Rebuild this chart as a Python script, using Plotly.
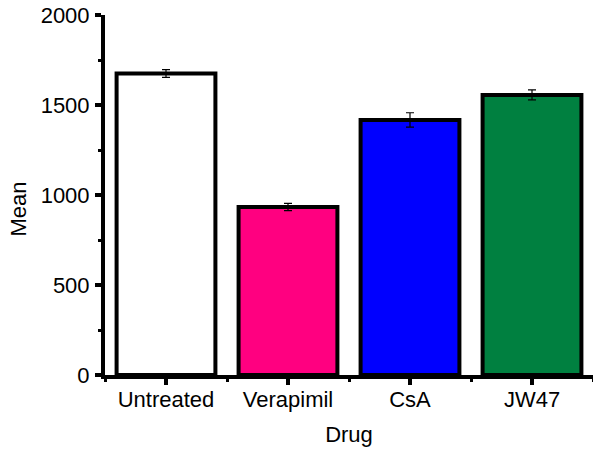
import plotly.graph_objects as go

categories = ["Untreated", "Verapimil", "CsA", "JW47"]
means = [1675, 933, 1417, 1556]
errors = [22, 20, 40, 28]
colors = ["#FFFFFF", "#FF0080", "#0000FF", "#008040"]
y_ticks = [0, 500, 1000, 1500, 2000]

positions = list(range(len(categories)))

fig = go.Figure()
fig.add_trace(go.Bar(
    x=positions, y=means,
    marker=dict(color=colors, line=dict(color="black", width=4)),
    error_y=dict(type="data", array=errors, visible=True, color="black", thickness=1.2, width=4),
    width=0.81,
))

font_family = "Liberation Sans, Arial, sans-serif"
fig.update_layout(
    width=593, height=454,
    margin=dict(l=105, r=0, t=15, b=79),
    paper_bgcolor="white", plot_bgcolor="white",
    showlegend=False,
    font=dict(family=font_family, size=22, color="black"),
    xaxis=dict(
        range=[-0.5, 3.5],
        tickmode="array", tickvals=positions, ticktext=categories,
        showline=True, linecolor="black", linewidth=4,
        ticks="outside", ticklen=6, tickwidth=4, tickcolor="black",
        showgrid=False, zeroline=False,
        tickfont=dict(size=22),
        ticklabelstandoff=-4,
        minor=dict(tickmode="linear", tick0=0.5, dtick=1, ticks="outside", ticklen=3, tickwidth=3, tickcolor="black", showgrid=False),
        title=dict(text="Drug", font=dict(size=22), standoff=16),
    ),
    yaxis=dict(
        range=[0, 2000],
        tickmode="array", tickvals=y_ticks,
        showline=True, linecolor="black", linewidth=4,
        ticks="outside", ticklen=6, tickwidth=4, tickcolor="black",
        showgrid=False, zeroline=False,
        tickfont=dict(size=22),
        ticklabeloverflow="allow",
        ticklabelstandoff=1,
        minor=dict(tickmode="linear", tick0=0, dtick=250, ticks="outside", ticklen=3, tickwidth=3, tickcolor="black", showgrid=False),
    ),
    annotations=[dict(
        text="Mean", xref="paper", yref="paper", x=-0.178, y=0.46,
        textangle=-90, showarrow=False, font=dict(size=22),
        xanchor="center", yanchor="middle",
    )],
)

fig.write_html(
    "out.html",
    config={"displayModeBar": False},
    post_script="document.body.style.margin='0';document.body.style.overflow='hidden';",
)
